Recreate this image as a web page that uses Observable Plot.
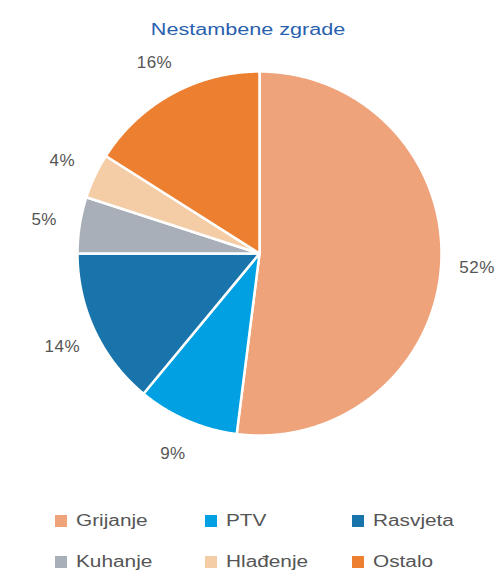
<!DOCTYPE html>
<html>
<head>
<meta charset="utf-8">
<script src="https://cdn.jsdelivr.net/npm/d3@7"></script>
<script src="https://cdn.jsdelivr.net/npm/@observablehq/plot@0.6"></script>
<style>
  html, body { margin: 0; padding: 0; background: #fff; }
  body { width: 496px; height: 573px; overflow: hidden; position: relative; font-family: "Liberation Sans", Arial, sans-serif; }
  #title { position: absolute; left: 0; top: 20px; width: 496px; height: 20px; line-height: 20px; text-align: center; }
  #title span { display: inline-block; font-size: 16px; color: #2A5FAE; transform: scaleX(1.35); transform-origin: center; }
  #chart { position: absolute; left: 0; top: 48px; }
  .item { position: absolute; height: 41px; line-height: 41px; white-space: nowrap; }
  .sw { position: absolute; width: 12px; height: 12px; }
  .lt { position: absolute; font-size: 16px; color: #555555; transform: scaleX(1.3); transform-origin: left center; }
</style>
</head>
<body>
<div id="title"><span>Nestambene zgrade</span></div>
<div id="chart"></div>
<div id="legend"></div>
<script>
const categories = ["Grijanje", "PTV", "Rasvjeta", "Kuhanje", "Hlađenje", "Ostalo"];
const shares = [52, 9, 14, 5, 4, 16];
const labels = ["52%", "9%", "14%", "5%", "4%", "16%"];
const colors = ["#EEA37B", "#00A0E2", "#1A74AC", "#A9AFB9", "#F4CCA6", "#EC7F30"];

const rows = categories.map((c, i) => ({category: c, value: shares[i], label: labels[i], color: colors[i]}));
const arcs = d3.pie().sort(null).value(d => d.value)(rows);

const W = 496, H = 452, CX = 259, CY = 205, R = 182, LR = 218;

function poly(a) {
  const pts = [{x: CX, y: CY}];
  const n = Math.max(2, Math.ceil((a.endAngle - a.startAngle) / 0.005));
  for (let k = 0; k <= n; k++) {
    const t = a.startAngle + (a.endAngle - a.startAngle) * k / n;
    pts.push({x: CX + R * Math.sin(t), y: CY - R * Math.cos(t)});
  }
  return pts;
}

const labelRows = arcs.map(a => {
  const m = (a.startAngle + a.endAngle) / 2;
  return {label: a.data.label, x: CX + LR * Math.sin(m), y: CY - LR * Math.cos(m)};
});

const svg = Plot.plot({
  width: W,
  height: H,
  margin: 0,
  style: {background: "transparent", overflow: "visible"},
  x: {domain: [0, W], range: [0, W], axis: null},
  y: {domain: [0, H], range: [0, H], axis: null},
  marks: [
    ...arcs.map(a => Plot.line(poly(a), {
      x: "x", y: "y", fill: a.data.color, stroke: "white", strokeWidth: 2.5,
      curve: "linear-closed", strokeLinejoin: "round"
    })),
    Plot.text(labelRows, {
      x: "x", y: "y", text: "label", fontSize: 17, fill: "#555555",
      fontFamily: "Liberation Sans, Arial, sans-serif"
    })
  ]
});
svg.querySelectorAll("text").forEach(t => {
  t.style.letterSpacing = "0.5px";
});
document.getElementById("chart").appendChild(svg);

const colX = [55, 205, 352];
const legend = document.getElementById("legend");
rows.forEach((d, i) => {
  const col = i % 3, row = Math.floor(i / 3);
  const item = document.createElement("div");
  item.className = "item";
  item.style.left = colX[col] + "px";
  item.style.top = (500 + row * 41) + "px";
  const sw = document.createElement("div");
  sw.className = "sw";
  sw.style.background = d.color;
  sw.style.left = "0px";
  sw.style.top = "15px";
  const lt = document.createElement("div");
  lt.className = "lt";
  lt.style.left = "21px";
  lt.style.top = "0px";
  lt.textContent = d.category;
  item.appendChild(sw);
  item.appendChild(lt);
  legend.appendChild(item);
});
</script>
</body>
</html>
